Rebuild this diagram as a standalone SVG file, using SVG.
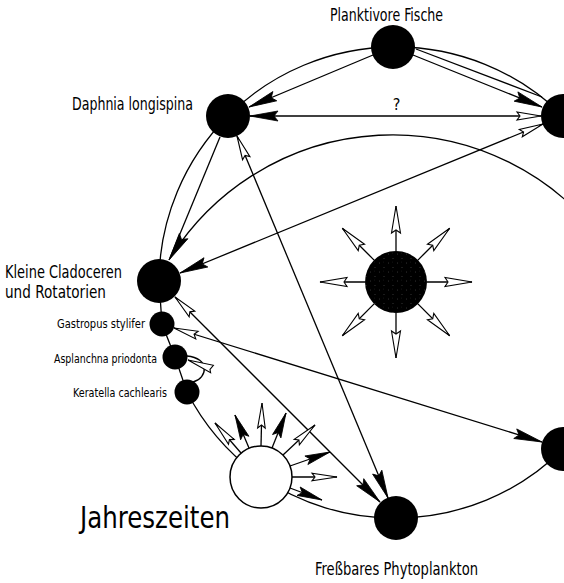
<svg xmlns="http://www.w3.org/2000/svg" width="564" height="583" viewBox="0 0 564 583">
<style>
.bg{fill:#fff}
.ln{fill:none;stroke:#000;stroke-width:1.3}
.node{fill:#000}
.open{fill:#fff;stroke:#000;stroke-width:1.5}
.t{font-family:"Liberation Sans Narrow","DejaVu Sans Condensed","Liberation Sans",sans-serif;fill:#000}
.ah-w{fill:#fff;stroke:#000;stroke-width:1.1}
.ah-b{fill:#000;stroke:#000;stroke-width:0.8}
</style>
<defs>
<marker id="bk" markerUnits="userSpaceOnUse" viewBox="-30 -6 32 12" refX="0" refY="0" markerWidth="32" markerHeight="12" orient="auto-start-reverse" overflow="visible">
<path class="ah-b" d="M0,0 L-28,-5 L-24,0 L-28,5 Z"/>
</marker>
<marker id="wh" markerUnits="userSpaceOnUse" viewBox="-26 -5 28 10" refX="0" refY="0" markerWidth="28" markerHeight="10" orient="auto-start-reverse" overflow="visible">
<path class="ah-w" d="M0,0 L-24,-4 L-21,0 L-24,4 Z"/>
</marker>
<marker id="sbk" markerUnits="userSpaceOnUse" viewBox="-27 -6 29 12" refX="0" refY="0" markerWidth="29" markerHeight="12" orient="auto" overflow="visible">
<path class="ah-b" d="M0,0 L-25,-4.5 L-21,0 L-25,4.5 Z"/>
</marker>
<marker id="swh" markerUnits="userSpaceOnUse" viewBox="-27 -5 29 10" refX="0" refY="0" markerWidth="29" markerHeight="10" orient="auto" overflow="visible">
<path class="ah-w" d="M0,0 L-25,-3.8 L-22,0 L-25,3.8 Z"/>
</marker>
<marker id="sun" markerUnits="userSpaceOnUse" viewBox="-29 -6 31 12" refX="0" refY="0" markerWidth="31" markerHeight="12" orient="auto" overflow="visible">
<path class="ah-w" d="M0,0 L-27,-4.5 L-24,0 L-27,4.5 Z"/>
</marker>
<pattern id="stip" width="9" height="9" patternUnits="userSpaceOnUse">
<rect width="9" height="9" fill="#000"/>
<circle cx="1.5" cy="2" r="0.45" fill="#666"/>
<circle cx="6" cy="6.5" r="0.4" fill="#777"/>
<circle cx="5.5" cy="1" r="0.3" fill="#555"/>
</pattern>
</defs>
<rect class="bg" x="0" y="0" width="564" height="583"/>

<g id="connectors">
<path class="ln" d="M228,116 A236,236 0 0,1 393,47"/>
<path class="ln" d="M393,47 A236,236 0 0,1 563,116"/>
<path class="ln" d="M159,281 A236,236 0 0,1 228,116"/>
<path class="ln" d="M187,392 A236,236 0 0,0 261,477"/>
<path class="ln" d="M261,477 A236,236 0 0,0 396,518"/>
<path class="ln" d="M396,518 A236,236 0 0,0 563,449"/>
<path class="ln" d="M159,281 L162,324 L175,357 L187,392"/>
<path class="ln" d="M373,55 L249,107" marker-end="url(#bk)"/>
<path class="ln" d="M413,55 L542,107" marker-end="url(#bk)"/>
<path class="ln" d="M416,49 L542,97"/>
<path class="ln" d="M250,116 L541,116" marker-start="url(#bk)" marker-end="url(#wh)"/>
<path class="ln" d="M180,273 L543,124" marker-start="url(#bk)" marker-end="url(#wh)"/>
<path class="ln" d="M600,237 A262,262 0 0,0 169,260" marker-end="url(#bk)"/>
<path class="ln" d="M220,137 L170,258"/>
<path class="ln" d="M237,136 L388,498" marker-start="url(#wh)" marker-end="url(#bk)"/>
<path class="ln" d="M175,297 L380,502" marker-start="url(#wh)" marker-end="url(#bk)"/>
<path class="ln" d="M174,328 L542,442" marker-start="url(#wh)" marker-end="url(#bk)"/>
<path class="ln" d="M193,382 C208,378 210,358 187,356"/>
<polygon class="ah-w" points="188,360 213.4,365.3 210,369.5 210.6,372.7"/>
<path class="ln" d="M241,453 L215,423" marker-end="url(#swh)"/>
<path class="ln" d="M249,448 L235,415" marker-end="url(#sbk)"/>
<path class="ln" d="M261,446 L262,403" marker-end="url(#swh)"/>
<path class="ln" d="M272,448 L286,413" marker-end="url(#sbk)"/>
<path class="ln" d="M283,455 L315,425" marker-end="url(#swh)"/>
<path class="ln" d="M290,466 L330,452" marker-end="url(#sbk)"/>
<path class="ln" d="M292,477 L337,477" marker-end="url(#swh)"/>
<path class="ln" d="M290,488 L322,500" marker-end="url(#sbk)"/>
<path class="ln" d="M396,251 L396,206" marker-end="url(#sun)"/>
<path class="ln" d="M417.9,260.1 L449.7,228.3" marker-end="url(#sun)"/>
<path class="ln" d="M427,282 L472,282" marker-end="url(#sun)"/>
<path class="ln" d="M417.9,303.9 L449.7,335.7" marker-end="url(#sun)"/>
<path class="ln" d="M396,313 L396,358" marker-end="url(#sun)"/>
<path class="ln" d="M374.1,303.9 L342.3,335.7" marker-end="url(#sun)"/>
<path class="ln" d="M365,282 L320,282" marker-end="url(#sun)"/>
<path class="ln" d="M374.1,260.1 L342.3,228.3" marker-end="url(#sun)"/>
</g>

<text class="t" x="396.5" y="110" font-size="16" text-anchor="middle">?</text>

<g id="n-fische">
<circle class="node" cx="393" cy="47" r="22"/>
<text class="t" x="330" y="21" font-size="18" textLength="113" lengthAdjust="spacingAndGlyphs">Planktivore Fische</text>
</g>
<g id="n-daphnia">
<circle class="node" cx="228" cy="116" r="22"/>
<text class="t" x="72" y="110" font-size="17" textLength="121" lengthAdjust="spacingAndGlyphs">Daphnia longispina</text>
</g>
<g id="n-rechts-oben">
<circle class="node" cx="563" cy="116" r="22"/>
</g>
<g id="n-kleine">
<circle class="node" cx="159" cy="281" r="22"/>
<text class="t" x="5" y="278" font-size="18" textLength="117" lengthAdjust="spacingAndGlyphs">Kleine Cladoceren</text>
<text class="t" x="5" y="298" font-size="18" textLength="101" lengthAdjust="spacingAndGlyphs">und Rotatorien</text>
</g>
<g id="n-gastropus">
<circle class="node" cx="162" cy="324" r="12.5"/>
<text class="t" x="57" y="328" font-size="12.5" textLength="88" lengthAdjust="spacingAndGlyphs">Gastropus stylifer</text>
</g>
<g id="n-asplanchna">
<circle class="node" cx="175" cy="357" r="12.5"/>
<text class="t" x="54" y="363" font-size="12.5" textLength="103" lengthAdjust="spacingAndGlyphs">Asplanchna priodonta</text>
</g>
<g id="n-keratella">
<circle class="node" cx="187" cy="392" r="12.5"/>
<text class="t" x="73" y="396.5" font-size="12.5" textLength="94" lengthAdjust="spacingAndGlyphs">Keratella cachlearis</text>
</g>
<g id="n-sonne">
<circle cx="396" cy="282" r="31" fill="url(#stip)"/>
</g>
<g id="n-jahreszeiten">
<circle class="open" cx="261" cy="477" r="31"/>
<text class="t" x="80" y="528" font-size="31" textLength="150" lengthAdjust="spacingAndGlyphs">Jahreszeiten</text>
</g>
<g id="n-phyto">
<circle class="node" cx="396" cy="518" r="22"/>
<text class="t" x="315" y="575" font-size="17" textLength="163" lengthAdjust="spacingAndGlyphs">Freßbares Phytoplankton</text>
</g>
<g id="n-rechts-unten">
<circle class="node" cx="563" cy="449" r="22"/>
</g>
</svg>
